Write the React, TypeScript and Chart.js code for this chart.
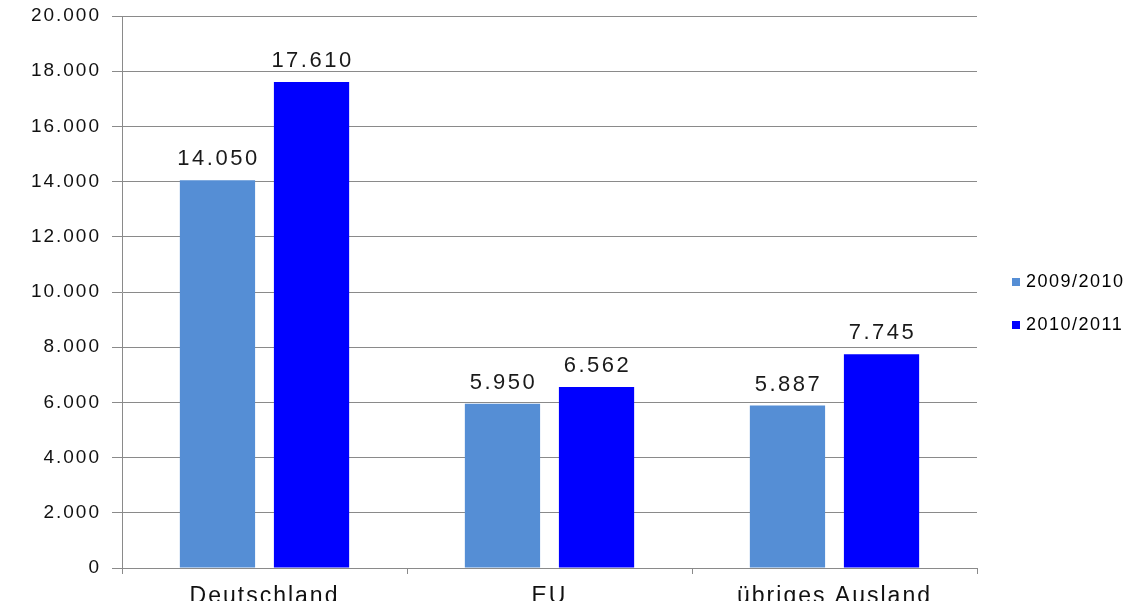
import React, { useEffect, useRef } from "react";
import { Chart, registerables } from "chart.js";

Chart.register(...registerables);

const categories = ["Deutschland", "EU", "übriges Ausland"];
const seriesLabels = ["2009/2010", "2010/2011"];
const values2009 = [14050, 5950, 5887];
const values2010 = [17610, 6562, 7745];
const seriesColors = ["#558ED5", "#0000FF"];
const yMin = 0;
const yMax = 20000;
const yStep = 2000;

const fmt = (v: number) =>
  String(Math.round(v)).replace(/\B(?=(\d{3})+(?!\d))/g, ".");

const FONT = "'Liberation Sans', Arial, sans-serif";

const spacingPlugin = {
  id: "letterSpacing",
  beforeDraw(chart: any) {
    chart.ctx.letterSpacing = "2px";
  },
};

const dataLabelPlugin = {
  id: "dataLabels",
  afterDatasetsDraw(chart: any) {
    const ctx = chart.ctx;
    ctx.save();
    ctx.letterSpacing = "2.5px";
    ctx.font = `22px ${FONT}`;
    ctx.fillStyle = "#1a1a1a";
    ctx.textAlign = "center";
    ctx.textBaseline = "alphabetic";
    chart.data.datasets.forEach((ds: any, i: number) => {
      const meta = chart.getDatasetMeta(i);
      meta.data.forEach((el: any, j: number) => {
        ctx.fillText(fmt(ds.data[j]), el.x + 1, el.y - 15);
      });
    });
    ctx.restore();
  },
};

const legendPlugin = {
  id: "customLegend",
  afterDraw(chart: any) {
    const ctx = chart.ctx;
    ctx.save();
    ctx.letterSpacing = "1.5px";
    ctx.font = `18px ${FONT}`;
    ctx.textBaseline = "middle";
    ctx.textAlign = "left";
    chart.data.datasets.forEach((ds: any, i: number) => {
      const cy = 282 + i * 43;
      ctx.fillStyle = ds.backgroundColor;
      ctx.fillRect(1012, cy - 4, 8, 8);
      ctx.fillStyle = "#000";
      ctx.fillText(ds.label, 1026, cy);
    });
    ctx.restore();
  },
};

export default function App() {
  const ref = useRef<HTMLCanvasElement | null>(null);
  useEffect(() => {
    if (!ref.current) return;
    const chart = new Chart(ref.current, {
      type: "bar",
      data: {
        labels: categories,
        datasets: [
          {
            label: seriesLabels[0],
            data: values2009,
            backgroundColor: seriesColors[0],
            categoryPercentage: 0.66,
            barPercentage: 0.8,
          },
          {
            label: seriesLabels[1],
            data: values2010,
            backgroundColor: seriesColors[1],
            categoryPercentage: 0.66,
            barPercentage: 0.8,
          },
        ],
      },
      options: {
        animation: false,
        responsive: false,
        maintainAspectRatio: false,
        layout: { padding: { top: 16, right: 156, left: 0, bottom: 0 } },
        plugins: {
          legend: { display: false },
          tooltip: { enabled: false },
        },
        scales: {
          x: {
            grid: {
              display: true,
              drawOnChartArea: false,
              tickLength: 6,
              color: "#8a8a8a",
              offset: true,
            },
            border: { display: true, color: "#8a8a8a" },
            ticks: {
              color: "#111",
              font: { family: FONT, size: 23 },
              padding: 9,
              maxRotation: 0,
            },
            afterFit(scale: any) {
              scale.height = 41;
              scale.paddingLeft = 0;
              scale.paddingRight = 0;
            },
          },
          y: {
            min: yMin,
            max: yMax,
            grid: { color: "#8a8a8a", tickLength: 10 },
            border: { display: true, color: "#8a8a8a" },
            ticks: {
              stepSize: yStep,
              color: "#111",
              font: { family: FONT, size: 19 },
              padding: 11,
              callback: (v: any) => fmt(Number(v)),
            },
            afterFit(scale: any) {
              scale.width = 122;
              scale.paddingTop = 0;
              scale.paddingBottom = 0;
            },
          },
        },
      },
      plugins: [spacingPlugin, dataLabelPlugin, legendPlugin],
    });
    return () => chart.destroy();
  }, []);
  return (
    <div style={{ margin: -8, width: 1133, height: 609, background: "#fff" }}>
      <canvas ref={ref} width={1133} height={609} style={{ display: "block" }} />
    </div>
  );
}
